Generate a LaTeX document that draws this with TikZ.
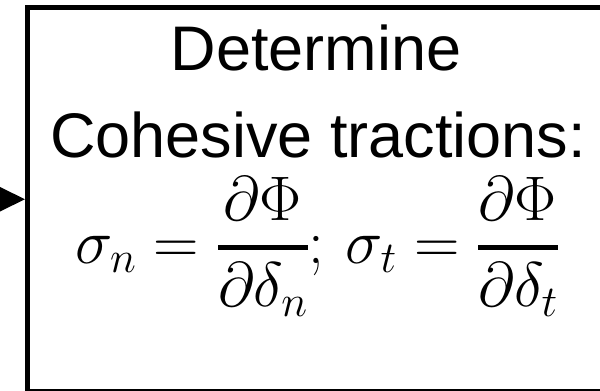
\documentclass[tikz,border=0pt]{standalone}
\usepackage{fix-cm}
\usepackage{amsmath}
\usepackage{fontspec}
\setmainfont{Liberation Sans}
\usetikzlibrary{arrows.meta}
\newcommand{\thickfrac}[2]{\genfrac{}{}{4.5pt}{0}{#1}{#2}}
\tikzset{
  procbox/.style={draw=black, line width=5pt, fill=white, minimum width=577.5pt, minimum height=383.5pt, inner sep=0pt},
  label text/.style={anchor=base, font=\fontsize{63}{75}\selectfont, inner sep=0pt},
  flow/.style={draw=black, line width=2pt, -{Triangle[length=25pt,width=24pt]}}
}
\begin{document}
\begin{tikzpicture}[x=1pt,y=-1pt]
\useasboundingbox (0,0) rectangle (600,391);
\node[procbox] (box) at (316.25,199.25) {};
\node[label text] (t1) at (316,70) {Determine};
\node[label text] (t2) at (318,157) {Cohesive tractions:};
\node[label text] (t3) at (317,263) {$\sigma_n=\thickfrac{\partial\Phi}{\partial\delta_n};\,\sigma_t=\thickfrac{\partial\Phi}{\partial\delta_t}$};
\coordinate (s) at (-5,199.25);
\draw[flow] (s) -- (box.west);
\end{tikzpicture}
\end{document}
